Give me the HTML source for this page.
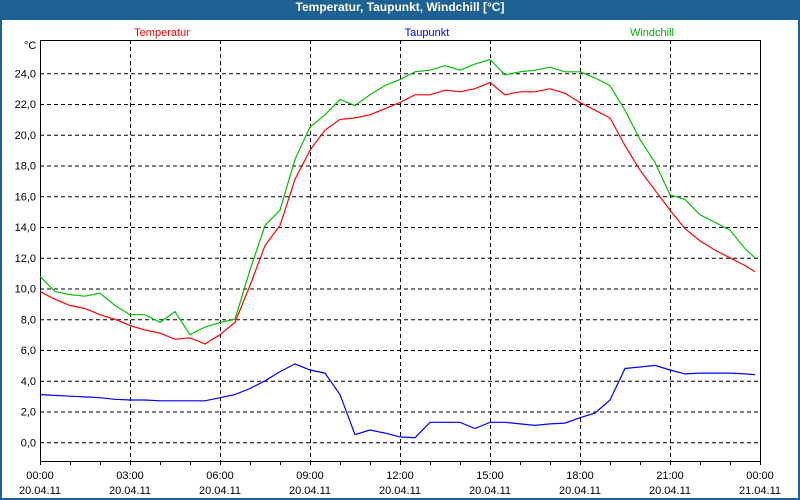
<!DOCTYPE html>
<html><head><meta charset="utf-8"><style>
html,body{margin:0;padding:0;width:800px;height:500px;overflow:hidden;background:#1e6194;}
#frame{position:absolute;left:2px;top:20px;width:796px;height:478px;background:#fff;}
#title{position:absolute;left:0;top:0;width:800px;height:20px;line-height:20px;text-align:center;color:#fff;font:bold 12px "Liberation Sans",sans-serif;}
svg{position:absolute;left:0;top:0;}
text{font-family:"Liberation Sans",sans-serif;font-size:11px;}
</style></head><body>
<div id="title">Temperatur, Taupunkt, Windchill [°C]</div>
<div id="frame"></div>
<svg id="chart" width="800" height="500"></svg>
<script>
const times=[0,0.5,1,1.5,2,2.5,3,3.5,4,4.5,5,5.5,6,6.5,7,7.5,8,8.5,9,9.5,10,10.5,11,11.5,12,12.5,13,13.5,14,14.5,15,15.5,16,16.5,17,17.5,18,18.5,19,19.5,20,20.5,21,21.5,22,22.5,23,23.5,23.83];
const temperatur=[9.8,9.3,8.9,8.7,8.3,8.0,7.6,7.3,7.1,6.7,6.8,6.4,7.0,7.8,10.2,12.8,14.1,17.1,19.0,20.3,21.0,21.1,21.3,21.7,22.1,22.6,22.6,22.9,22.8,23.0,23.4,22.6,22.8,22.8,23.0,22.7,22.1,21.6,21.1,19.3,17.7,16.4,15.1,13.9,13.1,12.5,12.0,11.5,11.1];
const windchill=[10.8,9.8,9.6,9.5,9.7,8.9,8.3,8.3,7.8,8.5,7.0,7.5,7.8,8.0,11.2,14.1,15.1,18.4,20.5,21.3,22.3,21.9,22.6,23.2,23.6,24.1,24.2,24.5,24.2,24.6,24.9,23.9,24.1,24.2,24.4,24.1,24.1,23.7,23.2,21.6,19.7,18.2,16.1,15.8,14.8,14.3,13.8,12.6,12.0];
const taupunkt=[3.1,3.05,3.0,2.95,2.9,2.8,2.75,2.75,2.7,2.7,2.7,2.7,2.9,3.1,3.5,4.0,4.6,5.1,4.7,4.5,3.1,0.5,0.8,0.6,0.35,0.3,1.3,1.3,1.3,0.9,1.3,1.3,1.2,1.1,1.2,1.25,1.6,1.9,2.75,4.8,4.9,5.0,4.7,4.45,4.5,4.5,4.5,4.45,4.4];
const yTicks=[0,2,4,6,8,10,12,14,16,18,20,22,24];
const xTickHours=[0,3,6,9,12,15,18,21,24];
const xTickTimes=["00:00","03:00","06:00","09:00","12:00","15:00","18:00","21:00","00:00"];
const xTickDates=["20.04.11","20.04.11","20.04.11","20.04.11","20.04.11","20.04.11","20.04.11","20.04.11","21.04.11"];
const X0=40,X1=760,Y0=40,Y1=461;
const xs=h=>X0+(X1-X0)*h/24;
const ys=v=>442.3-v*15.375;
const svg=document.getElementById('chart');
const NS='http://www.w3.org/2000/svg';
function mk(tag,attrs){const e=document.createElementNS(NS,tag);for(const k in attrs)e.setAttribute(k,attrs[k]);svg.appendChild(e);return e;}
yTicks.forEach(v=>{
 const l=mk('line',{x1:X0,x2:X1,y1:ys(v)+0.5,y2:ys(v)+0.5,stroke:'#000','stroke-dasharray':'4,3'});
 
 
 const t=mk('text',{x:X0-4,y:ys(v)+4,'text-anchor':'end'});t.textContent=v.toFixed(1).replace('.',',');
 
 
});
xTickHours.forEach((h,i)=>{
 if(h>0&&h<24){const l=mk('line',{x1:Math.round(xs(h))+0.5,x2:Math.round(xs(h))+0.5,y1:Y0,y2:Y1,stroke:'#000','stroke-dasharray':'4,3'});
 
 }
 const t=mk('text',{x:xs(h),y:479,'text-anchor':'middle'});t.textContent=xTickTimes[i];
 
 
 const d=mk('text',{x:xs(h),y:494,'text-anchor':'middle'});d.textContent=xTickDates[i];
 
 
});
for(let h=0;h<=24;h++){const l=mk('line',{x1:Math.round(xs(h))+0.5,x2:Math.round(xs(h))+0.5,y1:Y1,y2:Y1+4,stroke:'#000'});
 
 }
const box=mk('rect',{x:X0+0.5,y:Y0+0.5,width:X1-X0,height:Y1-Y0,fill:'none',stroke:'#000'});


const unit=mk('text',{x:24,y:49});unit.textContent='°C';


function series(vals,color,name){
 const p=mk('polyline',{points:vals.map((v,i)=>xs(times[i]).toFixed(1)+','+ys(v).toFixed(1)).join(' '),fill:'none',stroke:color,'stroke-width':1.2});
 
 
}
series(taupunkt,'#0000ff','taupunkt-line');
series(temperatur,'#ff0000','temperatur-line');
series(windchill,'#00c000','windchill-line');
[['Temperatur','#ff0000',162,'legend-temperatur'],['Taupunkt','#0000ff',427,'legend-taupunkt'],['Windchill','#00b000',652,'legend-windchill']].forEach(a=>{
 const t=mk('text',{x:a[2],y:36,'text-anchor':'middle',fill:a[1]});t.textContent=a[0];
 
 
});
</script>
</body></html>
